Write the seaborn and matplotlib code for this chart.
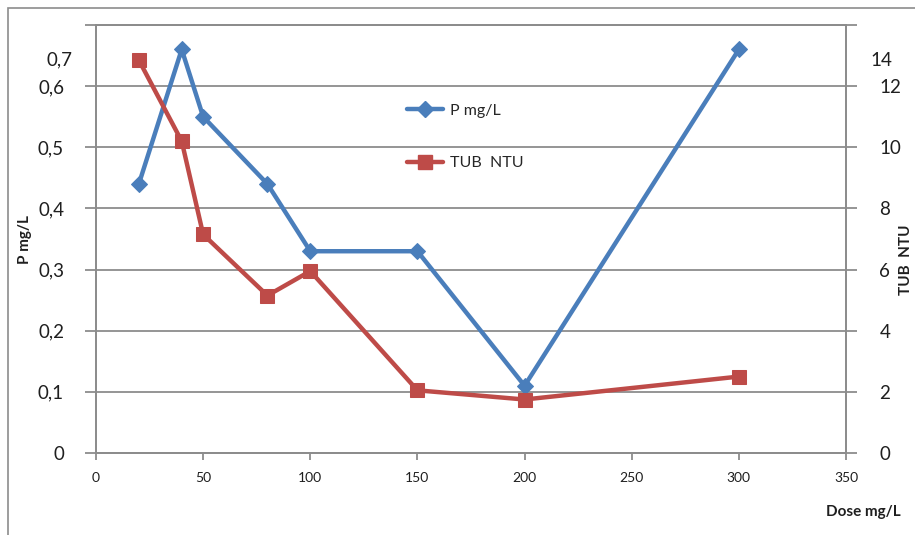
import pandas as pd
import seaborn as sns
import matplotlib.pyplot as plt
from matplotlib.lines import Line2D
from matplotlib.patches import Rectangle

# values
dose = [20, 40, 50, 80, 100, 150, 200, 300]
p_mgl = [0.44, 0.66, 0.55, 0.44, 0.33, 0.33, 0.11, 0.66]
tub_ntu = [12.85, 10.2, 7.15, 5.15, 5.95, 2.05, 1.75, 2.5]

x_ticks = [0, 50, 100, 150, 200, 250, 300, 350]
left_ticks = [0, 0.1, 0.2, 0.3, 0.4, 0.5, 0.6, 0.7]
left_labels = ["0", "0,1", "0,2", "0,3", "0,4", "0,5", "0,6", ""]
right_ticks = [0, 2, 4, 6, 8, 10, 12, 14]
right_labels = ["0", "2", "4", "6", "8", "10", "12", ""]

df = pd.DataFrame({"dose": dose, "p": p_mgl, "tub": tub_ntu})

sns.set_style("white")
plt.rcParams["font.family"] = ["Lato", "DejaVu Sans"]

blue = "#4A7EBB"
red = "#BE4B48"
grid_c = "#8C8C8C"
txt_c = "#1F1F1F"

fig = plt.figure(figsize=(9.15, 5.35), dpi=100)
ax = fig.add_axes([96 / 915, 82 / 535, 750 / 915, 428 / 535])
ax2 = ax.twinx()

sns.lineplot(data=df, x="dose", y="p", ax=ax, color=blue, marker="D",
             markersize=8, linewidth=3.2, markeredgecolor=blue, legend=False)
sns.lineplot(data=df, x="dose", y="tub", ax=ax2, color=red, marker="s",
             markersize=10, linewidth=3.2, markeredgecolor=red, legend=False)

ax.set_xlim(0, 350)
ax.set_ylim(0, 0.7)
ax2.set_ylim(0, 14)
ax.set_xticks(x_ticks)
ax.set_xticklabels([str(v) for v in x_ticks], fontsize=10, color=txt_c)
ax.set_yticks(left_ticks)
ax.set_yticklabels(left_labels, fontsize=13.5, color=txt_c)
ax2.set_yticks(right_ticks)
ax2.set_yticklabels(right_labels, fontsize=13.5, color=txt_c)

ax.yaxis.grid(True, color=grid_c, linewidth=1.3)
ax.set_axisbelow(True)
ax.set_xlabel("")
ax.set_ylabel("")
ax2.set_ylabel("")

for a in (ax, ax2):
    for s in a.spines.values():
        s.set_color(grid_c)
        s.set_linewidth(1.3)
ax.tick_params(axis="y", length=8, width=1.3, color=grid_c, pad=15, left=True)
ax.tick_params(axis="x", length=5, width=1.3, color=grid_c, pad=9, bottom=True)
ax2.tick_params(axis="y", length=8, width=1.3, color=grid_c, pad=16, right=True)

# top labels sit slightly off their gridlines in the reference
ax.annotate("0,7", xy=(0, 0.643), xycoords=("axes fraction", "data"),
            xytext=(-17, 0), textcoords="offset points", ha="right",
            va="center", fontsize=13.5, color=txt_c)
ax2.annotate("14", xy=(1, 12.85), xycoords=("axes fraction", "data"),
             xytext=(17.5, 0), textcoords="offset points", ha="left",
             va="center", fontsize=13.5, color=txt_c)

handles = [
    Line2D([], [], color=blue, marker="D", markersize=8, linewidth=3.2),
    Line2D([], [], color=red, marker="s", markersize=10, linewidth=3.2),
]
ax2.legend(handles, ["P mg/L", "TUB  NTU"], loc="upper left",
           bbox_to_anchor=(0.395, 0.85), frameon=False, fontsize=11.5,
           handlelength=2.3, labelspacing=2.4, handletextpad=0.4)

fig.text(25 / 915, 295 / 535, "P mg/L", rotation=90, ha="center", va="center",
         fontsize=11, fontweight="bold", color=txt_c)
fig.text(906 / 915, 275 / 535, "TUB  NTU", rotation=90, ha="center",
         va="center", fontsize=11, fontweight="bold", color=txt_c)
fig.text(826 / 915, 23 / 535, "Dose mg/L", ha="left", va="center",
         fontsize=11, fontweight="bold", color=txt_c)

fig.patches.append(Rectangle((8 / 915, -0.05), 1.2, (535 - 8) / 535 + 0.05,
                             transform=fig.transFigure, fill=False,
                             edgecolor="#8C8C8C", linewidth=1.2))

fig.savefig("out.png", dpi=100)
plt.close(fig)
